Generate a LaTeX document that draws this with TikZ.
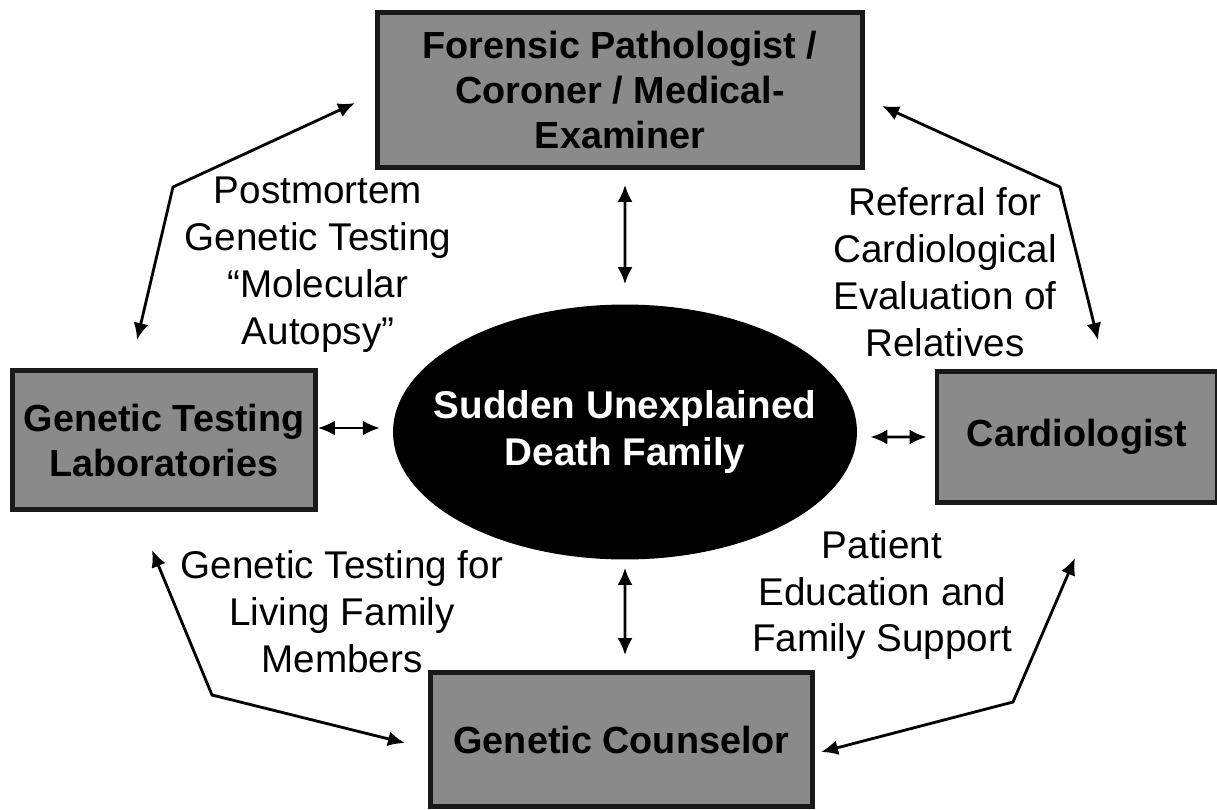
\documentclass[tikz,border=0pt]{standalone}
\usepackage{fontspec}
\setmainfont{Liberation Sans}
\usetikzlibrary{arrows.meta,shapes.geometric}
\definecolor{boxgray}{RGB}{138,138,138}

\begin{document}
\begin{tikzpicture}[
    x=0.02cm,y=-0.02cm,
    role/.style={rectangle,draw=black!90,fill=boxgray,line width=2.7pt,inner sep=0pt,align=center,font=\bfseries\fontsize{21.5}{25.6}\selectfont},
    family/.style={ellipse,fill=black,inner sep=0pt,minimum width=9.28cm,minimum height=5.1cm},
    familytext/.style={text=white,align=center,font=\bfseries\fontsize{22}{26.7}\selectfont},
    note/.style={align=center,font=\fontsize{22}{26.7}\selectfont},
    link/.style={{Latex[length=0.34cm,width=0.3cm]}-{Latex[length=0.34cm,width=0.3cm]},line width=1.6pt,line join=miter},
]
\useasboundingbox (0,0) rectangle (1217,809);

% actors
\node[role,minimum width=9.7cm,minimum height=3.1cm] (fpath) at (620,90) {Forensic Pathologist /\\Coroner / Medical-\\Examiner};
\node[role,minimum width=6.06cm,minimum height=2.78cm] (gtlab) at (164,440) {Genetic Testing\\Laboratories};
\node[role,minimum width=5.6cm,minimum height=2.62cm] (cardio) at (1077,437) {Cardiologist};
\node[role,minimum width=7.64cm,minimum height=2.68cm] (gcoun) at (621.5,739.5) {Genetic Counselor};
\node[family,label={[familytext]center:Sudden Unexplained\\Death Family}] (sudf) at (625,432) {};

% texts on the links
\node[note] (pmtest) at (318,265) {Postmortem\\Genetic Testing\\``Molecular\\Autopsy''};
\node[note] (referral) at (945,272) {Referral for\\Cardiological\\Evaluation of\\Relatives};
\node[note] (livtest) at (342,612) {Genetic Testing for\\Living Family\\Members};
\node[note] (support) at (882,595) {Patient\\Education and\\Family Support};

% bends and free ends
\coordinate (tlend) at (355,103);
\coordinate (tlbend) at (173,187);
\coordinate (tlfoot) at (137,340);
\coordinate (trend) at (882,106);
\coordinate (trbend) at (1060,187);
\coordinate (trfoot) at (1098,340);
\coordinate (bltop) at (152,550);
\coordinate (blbend) at (212,695);
\coordinate (blend) at (405,743);
\coordinate (brtop) at (1075,558);
\coordinate (brbend) at (1013,702);
\coordinate (brend) at (821,752);

\draw[link] (tlend) -- (tlbend) -- (tlfoot);
\draw[link] (trend) -- (trbend) -- (trfoot);
\draw[link] (bltop) -- (blbend) -- (blend);
\draw[link] (brtop) -- (brbend) -- (brend);

\draw[link] ([xshift=0.1cm,yshift=-0.3cm]fpath.south) -- ([yshift=0.4cm]sudf.north);
\draw[link] ([yshift=-0.16cm]sudf.south) -- ([xshift=0.07cm,yshift=0.3cm]gcoun.north);
\draw[link] ([yshift=0.24cm]gtlab.east) -- ++(62,0);
\draw[link] ([xshift=0.26cm,yshift=-0.1cm]sudf.east) -- ([xshift=-0.16cm]cardio.west);
\end{tikzpicture}
\end{document}
